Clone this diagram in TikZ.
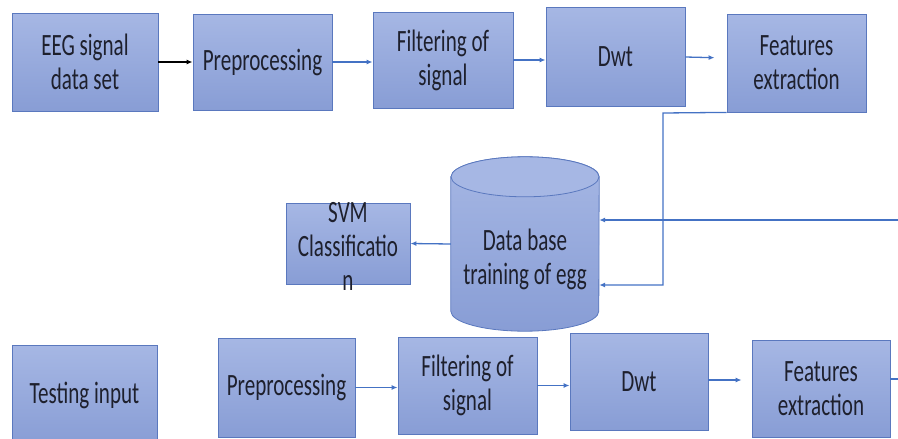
\documentclass[tikz,border=0pt]{standalone}
\usepackage{fontspec}
\setmainfont{Carlito}[FakeStretch=0.68]
\usetikzlibrary{arrows.meta}
\definecolor{boxtop}{RGB}{166,183,228}
\definecolor{boxbot}{RGB}{136,157,213}
\definecolor{boxline}{RGB}{90,120,190}
\definecolor{flowblue}{RGB}{68,114,196}
\definecolor{inkdark}{RGB}{30,32,45}
\tikzset{
	block/.style={draw=boxline, line width=0.8pt, top color=boxtop, bottom color=boxbot, inner sep=0pt},
	caption/.style={text=inkdark, align=center, font=\fontsize{31}{34}\selectfont},
	flow/.style={draw=flowblue, line width=1.3pt, -{Latex[length=6pt,width=5pt]}},
}

\begin{document}
\begin{tikzpicture}[x=1pt, y=-1pt]
	\useasboundingbox (0,0) rectangle (898,439);
	\node[block, caption, minimum width=146pt, minimum height=98pt] (eeg) at (85,62) {EEG signal\\data set};
	\node[block, caption, minimum width=139pt, minimum height=96pt] (pre1) at (262.5,62) {Preprocessing};
	\node[block, caption, minimum width=140pt, minimum height=96pt] (filt1) at (443,60) {Filtering of\\signal};
	\node[block, caption, minimum width=139pt, minimum height=99pt] (dwt1) at (615.5,56.5) {Dwt};
	\node[block, caption, minimum width=139pt, minimum height=98pt] (feat1) at (796.5,63) {Features\\extraction};
	\draw[flow, draw=black] (eeg) -- (pre1);
	\draw[flow] (pre1.east) -- (filt1.west |- pre1.east);
	\draw[flow] (filt1.east) -- (dwt1.west |- filt1.east);
	\draw[flow, shorten >=12pt] ([yshift=-0.5pt]dwt1.east) -- ([yshift=5pt]feat1.west);
	\node[minimum width=148pt, minimum height=134pt, inner sep=0pt] (db) at (525,244) {};
	\draw[draw=boxline, line width=0.8pt, top color=boxtop, bottom color=boxbot] (db.north west) -- (db.south west) arc[start angle=180, end angle=360, x radius=74pt, y radius=20pt] -- (db.north east) arc[start angle=0, end angle=180, x radius=74pt, y radius=20pt] -- cycle;
	\draw[draw=boxline, line width=0.8pt, fill=boxtop] (db.north) ellipse [x radius=74pt, y radius=20pt];
	\node[caption] (dbtext) at ([yshift=-15pt]db.center) {Data base\\training of egg};
	\node[block, minimum width=124pt, minimum height=81pt] (svm) at (348,243.5) {};
	\node[caption] (svmtext) at ([yshift=-3pt]svm.center) {SVM\\Classificatio\\n};
	\draw[flow] (db.west) -- (svm.east);
	\coordinate (bend1) at (663,113);
	\draw[flow] (feat1.south west) -- (bend1) |- ([yshift=-41pt]db.east);
	\node[block, caption, minimum width=145pt, minimum height=100pt] (test) at (84.5,395) {Testing input};
	\node[block, caption, minimum width=137pt, minimum height=99pt] (pre2) at (286.5,387.5) {Preprocessing};
	\node[block, caption, minimum width=139pt, minimum height=97pt] (filt2) at (467.5,385.5) {Filtering of\\signal};
	\node[block, caption, minimum width=138pt, minimum height=97pt] (dwt2) at (639,381.5) {Dwt};
	\node[block, caption, minimum width=138pt, minimum height=97pt] (feat2) at (821,388.5) {Features\\extraction};
	\draw[flow] (pre2.east) -- (filt2.west |- pre2.east);
	\draw[flow] (filt2.east) -- (dwt2.west |- filt2.east);
	\draw[flow, shorten >=10pt] ([yshift=1.5pt]dwt2.east) -- ([yshift=8.5pt]feat2.west);
	\coordinate (rimlow) at (898,379);
	\coordinate (rimhigh) at (898,220);
	\draw[flow, -] ([yshift=9.5pt]feat2.east) -- (rimlow);
	\draw[flow] (rimhigh) -- ([yshift=24pt]db.east);
\end{tikzpicture}
\end{document}
